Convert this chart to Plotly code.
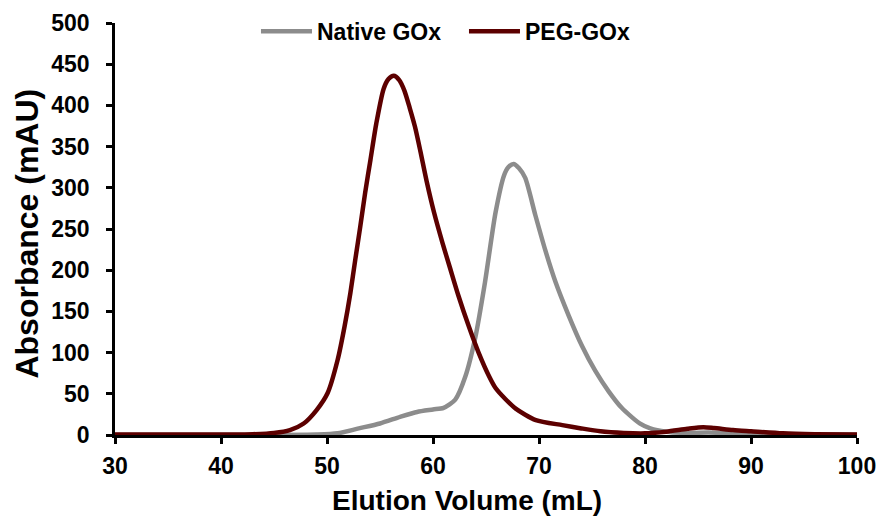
import plotly.graph_objects as go

# Size-exclusion chromatograms: elution volume (mL) vs absorbance (mAU)
native_ml = [30, 40, 45, 49, 51, 53, 55, 56.9, 58.5, 60, 61, 62.1, 63.05, 64.0,
             64.9, 65.9, 66.7, 67.1, 67.6, 68.1, 68.7, 69.65, 70.6, 71.55, 72.8,
             74.06, 75.3, 76.57, 77.8, 79.5, 80.5, 82, 84, 86, 88, 90, 95, 100]
native_mau = [0, 0, 0, 0.5, 2, 8, 14, 22, 28, 31, 33, 43, 71, 119,
              185, 270, 315, 325, 329, 324, 312, 267, 224, 186, 145,
              108, 78, 53, 33, 14, 8, 4, 2.5, 3, 2, 1, 0.5, 0.3]

peg_ml = [30, 35, 40, 43, 45, 46.5, 47.8, 49, 50.06, 51.0, 51.66, 52.2, 52.67,
          53.14, 53.6, 54.1, 54.65, 55.34, 55.8, 56.3, 56.8, 57.3, 57.8, 58.3,
          58.8, 59.4, 60.1, 60.9, 61.6, 62.4, 63.4, 64.3, 65.3, 65.9, 66.8,
          67.8, 69.7, 72.2, 74, 75.8, 78, 80, 82, 84, 85.5, 86.5, 88.3, 90,
          93, 96, 100]
peg_mau = [0.5, 0.5, 0.5, 1, 2.5, 6, 14, 30, 51, 91, 132, 172, 213,
           253, 294, 334, 378, 420, 432, 436, 431, 418, 397, 374,
           345, 308, 270, 233, 203, 169, 131, 100, 71, 57, 44,
           32, 18, 12, 8, 4.5, 2.5, 2, 4, 7.5, 9.5, 8.5, 6, 4.5,
           2, 1, 0.5]

x_ticks = [30, 40, 50, 60, 70, 80, 90, 100]
y_ticks = [0, 50, 100, 150, 200, 250, 300, 350, 400, 450, 500]

FONT = "Liberation Sans, Arial, sans-serif"
GRAY = "#8c8c8c"
MAROON = "#5c0000"

fig = go.Figure()
fig.add_trace(go.Scatter(
    x=native_ml, y=native_mau, mode="lines", name="Native GOx",
    line=dict(color=GRAY, width=4.5, shape="spline", smoothing=0.7),
))
fig.add_trace(go.Scatter(
    x=peg_ml, y=peg_mau, mode="lines", name="PEG-GOx",
    line=dict(color=MAROON, width=4.5, shape="spline", smoothing=0.7),
))

axis_common = dict(
    showgrid=False, zeroline=False, showline=True, linecolor="black",
    linewidth=2.5, ticks="outside", ticklen=6, tickwidth=2.5,
    tickcolor="black",
    tickfont=dict(family=FONT, size=23, color="black", weight=700),
)

fig.update_xaxes(range=[30, 100], tickvals=x_ticks, ticklabelstandoff=3,
                 **axis_common)
fig.update_yaxes(range=[0, 500], tickvals=y_ticks, ticklabelstandoff=12,
                 **axis_common)

fig.update_layout(
    width=880, height=517,
    margin=dict(l=115, r=23, t=23, b=82, autoexpand=False),
    plot_bgcolor="white", paper_bgcolor="white",
    showlegend=True,
    legend=dict(
        orientation="h", x=0.19, y=0.98, xanchor="left", yanchor="middle",
        font=dict(family=FONT, size=23, color="black", weight=700),
        bgcolor="rgba(0,0,0,0)", itemwidth=51, entrywidth=142,
    ),
    annotations=[
        dict(text="Elution Volume (mL)", xref="paper", yref="paper",
             x=0.475, y=-0.16, xanchor="center", yanchor="middle",
             showarrow=False,
             font=dict(family=FONT, size=28, color="black", weight=700)),
        dict(text="Absorbance (mAU)", xref="paper", yref="paper",
             x=-0.118, y=0.49, xanchor="center", yanchor="middle",
             textangle=-90, showarrow=False,
             font=dict(family=FONT, size=32, color="black", weight=700)),
    ],
)

fig.write_html("out.html")
